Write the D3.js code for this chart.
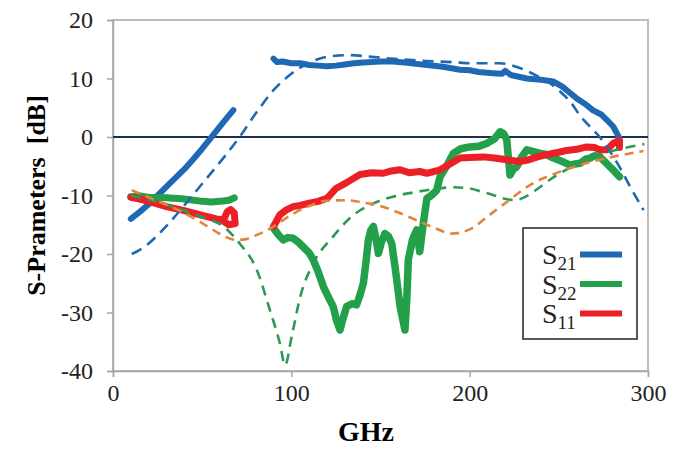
<!DOCTYPE html>
<html>
<head>
<meta charset="utf-8">
<script src="https://cdn.jsdelivr.net/npm/d3@7"></script>
<style>
	body { margin: 0; background: #fff; }
	text { font-family: "Liberation Serif", "Times New Roman", serif; }
</style>
</head>
<body>
<svg id="svg_main" width="677" height="451"></svg>
<script>
// measured curves, [GHz, dB]
var s21Low = [[10,-14],[15,-12.8],[20,-11.5],[25,-10],[30,-8.5],[35,-7],[40,-5.5],[45,-3.8],[50,-2],[55,-0.1],[60,1.8],[64,3.3],[67.5,4.6]];
var s21High = [[90,13.4],[92,12.8],[95,12.9],[100,12.6],[105,12.6],[110,12.3],[115,12.2],[120,12.1],[125,12.2],[130,12.4],[135,12.6],[138.5,12.7],[145,12.8],[150,12.9],[157,12.9],[165,12.7],[170,12.5],[176,12.3],[185,12.0],[194.6,11.5],[200,11.4],[205,11.1],[213,10.9],[218,10.8],[220,11.3],[223,10.6],[232,10.0],[240,9.8],[246.8,9.5],[252,8.6],[256,7.6],[260,6.6],[265,5.6],[269,4.6],[274,3.8],[277,2.9],[280.5,1.8],[284,-0.2]];
var s22Low = [[10,-10.2],[15,-10.1],[20,-10.3],[30,-10.4],[40,-10.6],[50,-11],[55,-11.1],[60,-11],[65,-10.8],[68,-10.4]];
var s22High = [[90,-15.6],[93,-16.8],[95.5,-17.6],[98,-17.2],[101,-17.3],[104,-18],[106.7,-18.8],[110,-19.8],[112.3,-21],[115,-23],[118,-25.6],[121,-27.5],[123.5,-29],[125.5,-31.5],[127.3,-33],[129,-31],[131,-29],[134,-28.5],[136.6,-28.7],[138.5,-27],[140.4,-25],[142,-21],[143.2,-17.6],[144.5,-16],[146,-15.3],[147.5,-17.5],[148.8,-19.9],[150.5,-18],[152.5,-16.5],[154.5,-17],[156.3,-18.2],[158.5,-23],[161,-29],[163.7,-33],[164.7,-28],[165.6,-21],[168,-17.5],[170.3,-15.9],[172,-19.6],[174,-14.8],[176,-10.5],[178.5,-10],[181.5,-9.1],[183.4,-6.8],[187,-5],[190.8,-2.8],[195,-2],[200,-1.7],[205,-1.6],[209.5,-1.1],[214,-0.3],[217,0.9],[219,0.6],[220.8,-0.5],[222.6,-6.5],[224.5,-5.5],[226.4,-5.1],[229,-3.5],[232,-2.2],[236,-2.5],[239.4,-2.8],[243,-3],[247,-3.6],[252,-4.2],[256.3,-4.8],[259,-4.6],[262,-4.5],[265,-3.8],[267.5,-3.6],[270,-3.2],[273,-3.4],[276,-4.3],[278.7,-5.1],[281,-5.8],[284,-6.8]];
var s11Low = [[10,-10.3],[15,-10.6],[20,-11],[30,-11.9],[40,-12.6],[50,-13.4],[58,-14],[62,-14.2],[64,-12.8],[66,-12.4],[68,-13],[68.5,-14.8],[65,-15],[62,-14.4]];
var s11High = [[90,-15.3],[93.6,-13.3],[97,-12.5],[101,-11.9],[105,-11.7],[110,-11.3],[115,-11],[120,-10.5],[125,-8.8],[131,-7.8],[138.5,-6.4],[145,-6.1],[151.6,-6.2],[156,-5.8],[161,-5.6],[166,-6.1],[172,-5.9],[176,-6.2],[183.4,-5.6],[188,-4.8],[194.6,-3.6],[200,-3.5],[207.7,-3.4],[214,-3.6],[220.8,-3.9],[228,-4.2],[232,-4.0],[238,-3.4],[245,-2.9],[250,-2.6],[254.4,-2.3],[260,-2.1],[265.6,-1.7],[270,-1.8],[273,-2.2],[277,-2.2],[280.5,-1.1],[282.5,-0.8],[284,-0.6],[284,-1.8]];

// simulated curves (dashed)
var s21Sim = [[10.5,-20],[15,-19.3],[20,-18.2],[25,-16.8],[30,-15.2],[40,-11.7],[50,-8],[60,-4.3],[71,0],[80,4],[90,8],[100,10.8],[110,12.7],[120,13.7],[133,14],[145,13.7],[160,13.3],[175,13],[190,12.8],[202,12.6],[217,12.6],[228,11.8],[238,10.4],[245,9.2],[251,7.7],[257,5.8],[262,3.6],[268,1.6],[274,-0.4],[279,-2.6],[284,-5.1],[290,-8.5],[297.5,-12.5]];
var s22Sim = [[10,-10],[20,-10.7],[30,-11.6],[40,-12.6],[50,-13.7],[62,-15.3],[71,-18.2],[80.6,-22.7],[88,-29.6],[93.6,-35.3],[96.5,-39],[100.2,-34.1],[105,-27.3],[112.3,-21.6],[123.5,-17],[133,-13.8],[145,-11.5],[157,-10.2],[170,-9.4],[180,-8.9],[191,-8.6],[200,-8.8],[206,-9.3],[213,-9.9],[219,-10.5],[226,-10.8],[230,-10.4],[237,-9.1],[245,-7.3],[254,-5.6],[265.6,-3.9],[280,-2.4],[298,-1.2]];
var s11Sim = [[10.5,-9.1],[20,-10.3],[30,-11.6],[40,-13],[48.8,-14.5],[58,-16.2],[64,-17.2],[69.4,-17.6],[74,-17.5],[78.7,-17],[84,-16.3],[90,-15.3],[95,-14.3],[100,-13.3],[110,-11.8],[120,-10.9],[130,-10.8],[140,-11.2],[150,-11.8],[160,-12.9],[170,-14.2],[180,-15.5],[190,-16.5],[200,-15.8],[210,-13.6],[220,-11.3],[235,-8],[250,-6],[265,-4.5],[280,-3.4],[297.5,-2.4]];

var xTicks = [0, 100, 200, 300];
var yTicks = [-40, -30, -20, -10, 0, 10, 20];
var legendNames = ["21", "22", "11"];

var blue = "#1f68b3", green = "#22a04a", red = "#ec1f26", orange = "#e3843c";

var svg = d3.select("#svg_main");

var x = d3.scaleLinear().domain([0, 300]).range([113, 648]),
	y = d3.scaleLinear().domain([-40, 20]).range([371, 20]);

// frame
svg.append("rect")
	.attr("x", x(0))
	.attr("y", y(20))
	.attr("width", x(300) - x(0))
	.attr("height", y(-40) - y(20))
	.attr("fill", "none")
	.attr("stroke", "#a6a6a6")
	.attr("stroke-width", 1.5);

var xAxis = svg.append("g")
	.attr("transform", `translate(0, ${y(-40)})`)
	.call(d3.axisBottom(x).tickValues(xTicks).tickSize(6).tickFormat(d3.format("d")));
var yAxis = svg.append("g")
	.attr("transform", `translate(${x(0)}, 0)`)
	.call(d3.axisLeft(y).tickValues(yTicks).tickSize(6).tickFormat(d3.format("d")));

[xAxis, yAxis].forEach(a => {
	a.select(".domain").attr("stroke", "#a6a6a6").attr("stroke-width", 1.5);
	a.selectAll(".tick line").attr("stroke", "#a6a6a6").attr("stroke-width", 1.5);
	a.selectAll(".tick text")
		.attr("font-family", "Liberation Serif, Times New Roman, serif")
		.attr("font-size", "24px")
		.attr("fill", "#222");
});
xAxis.selectAll(".tick text").attr("y", 13);
yAxis.selectAll(".tick text").attr("x", -20).text(d => d < 0 ? `-${-d}` : d);

// zero line
svg.append("line")
	.attr("x1", x(0))
	.attr("x2", x(300))
	.attr("y1", y(0))
	.attr("y2", y(0))
	.attr("stroke", "#1d2f4f")
	.attr("stroke-width", 2);

var solid = d3.line().x(d => x(d[0])).y(d => y(d[1]));
var smooth = d3.line().x(d => x(d[0])).y(d => y(d[1])).curve(d3.curveMonotoneX);

function measured(data, color, w) {
	svg.append("path")
		.datum(data)
		.attr("d", solid)
		.attr("fill", "none")
		.attr("stroke", color)
		.attr("stroke-width", w)
		.attr("stroke-linejoin", "round")
		.attr("stroke-linecap", "round");
}

function simulated(data, color, dash) {
	svg.append("path")
		.datum(data)
		.attr("d", smooth)
		.attr("fill", "none")
		.attr("stroke", color)
		.attr("stroke-width", 2.6)
		.attr("stroke-dasharray", dash);
}

measured(s21Low, blue, 6);
measured(s21High, blue, 6);
measured(s22Low, green, 7);
measured(s22High, green, 7.5);
measured(s11Low, red, 7);
measured(s11High, red, 7);

simulated(s21Sim, blue, "11,7");
simulated(s22Sim, "#2b9a55", "10,7");
simulated(s11Sim, orange, "9,6");

// axis titles
svg.append("text")
	.attr("x", 366)
	.attr("y", 441)
	.attr("text-anchor", "middle")
	.attr("font-size", "28px")
	.attr("font-weight", "bold")
	.text("GHz");

svg.append("text")
	.attr("transform", `translate(45, ${(y(20) + y(-40)) / 2}) rotate(-90)`)
	.attr("text-anchor", "middle")
	.attr("font-size", "26px")
	.attr("font-weight", "bold")
	.text("S-Prameters  [dB]")
	.attr("xml:space", "preserve")
	.style("white-space", "pre");

// legend
var legend = svg.append("g").attr("class", "legend");
legend.append("rect")
	.attr("x", 523)
	.attr("y", 228)
	.attr("width", 114)
	.attr("height", 111)
	.attr("fill", "#fff")
	.attr("stroke", "#222")
	.attr("stroke-width", 1.5);

var colors = [blue, green, red];
legendNames.forEach((n, i) => {
	let row = legend.append("g").attr("transform", `translate(0, ${i * 29.5})`);
	let t = row.append("text")
		.attr("x", 542)
		.attr("y", 264)
		.attr("font-size", "28px")
		.attr("fill", "#222");
	t.append("tspan").text("S");
	t.append("tspan")
		.attr("font-size", "19px")
		.attr("dy", 6)
		.text(n);
	row.append("line")
		.attr("x1", 580)
		.attr("x2", 622)
		.attr("y1", 254.5)
		.attr("y2", 254.5)
		.attr("stroke", colors[i])
		.attr("stroke-width", 6);
});
</script>
</body>
</html>
